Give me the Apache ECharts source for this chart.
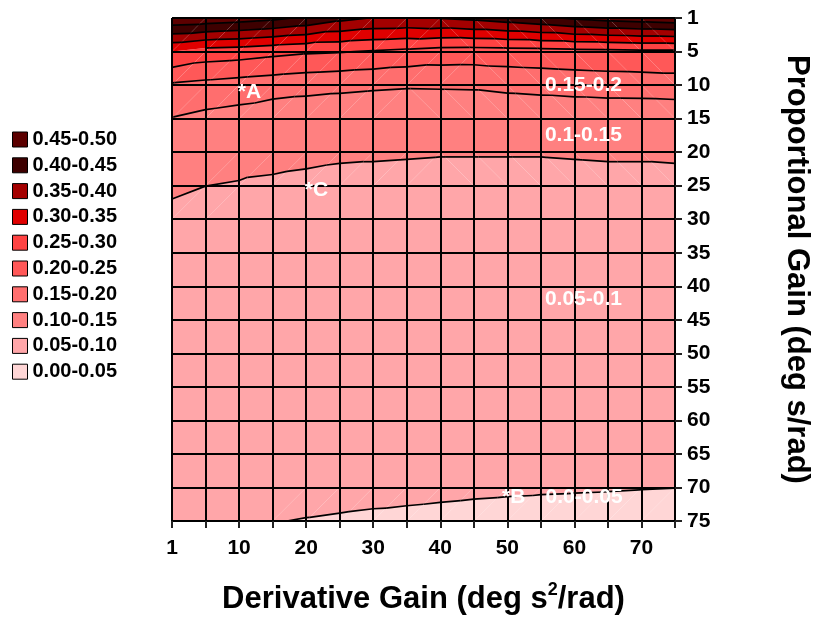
<!DOCTYPE html>
<html>
<head>
<meta charset="utf-8">
<script src="https://cdn.jsdelivr.net/npm/echarts@6/dist/echarts.min.js"></script>
<style>
  html, body { margin: 0; padding: 0; background: #ffffff; }
  #chart { width: 817px; height: 617px; }
</style>
</head>
<body>
<div id="chart"></div>
<script>
// Grid of gains (both axes are sampled at the same points)
const derivGain = [1, 5, 10, 15, 20, 25, 30, 35, 40, 45, 50, 55, 60, 65, 70, 75];
const propGain  = [1, 5, 10, 15, 20, 25, 30, 35, 40, 45, 50, 55, 60, 65, 70, 75];
const xLabelGains = [1, 10, 20, 30, 40, 50, 60, 70];

// Contour bands, low to high
const bandLabels = ['0.00-0.05', '0.05-0.10', '0.10-0.15', '0.15-0.20', '0.20-0.25',
                    '0.25-0.30', '0.30-0.35', '0.35-0.40', '0.40-0.45', '0.45-0.50'];
const bandEdges  = [0, 0.05, 0.10, 0.15, 0.20, 0.25, 0.30, 0.35, 0.40, 0.45, 0.50];
const bandColors = ['#ffd6d6', '#ffa6a9', '#ff8080', '#ff6e6e', '#ff5858',
                    '#ff4242', '#e00000', '#a40000', '#3e0000', '#5c0000'];

// Error surface, one row per proportional gain, columns follow derivGain
const errP1  = [0.490, 0.485, 0.475, 0.462, 0.442, 0.415, 0.398, 0.396, 0.402, 0.412, 0.425, 0.440, 0.458, 0.470, 0.478, 0.485];
const errP5  = [0.300, 0.279, 0.274, 0.264, 0.256, 0.253, 0.246, 0.238, 0.230, 0.228, 0.230, 0.232, 0.235, 0.237, 0.240, 0.240];
const errP10 = [0.194, 0.186, 0.179, 0.173, 0.167, 0.162, 0.158, 0.155, 0.156, 0.157, 0.163, 0.167, 0.171, 0.174, 0.175, 0.178];
const errP15 = [0.148, 0.137, 0.130, 0.118, 0.1155, 0.113, 0.110, 0.109, 0.108, 0.108, 0.109, 0.110, 0.111, 0.112, 0.112, 0.113];
const errP20 = [0.123, 0.115, 0.111, 0.106, 0.104, 0.1025, 0.102, 0.1015, 0.101, 0.101, 0.101, 0.101, 0.1015, 0.102, 0.102, 0.1025];
const errP25 = [0.106, 0.1002, 0.098, 0.097, 0.096, 0.095, 0.095, 0.0945, 0.094, 0.094, 0.094, 0.094, 0.0945, 0.095, 0.095, 0.095];
const errP30 = [0.091, 0.090, 0.088, 0.088, 0.087, 0.087, 0.0865, 0.086, 0.086, 0.086, 0.086, 0.086, 0.086, 0.0865, 0.087, 0.087];
const errP35 = [0.084, 0.083, 0.082, 0.081, 0.081, 0.080, 0.080, 0.0795, 0.079, 0.079, 0.079, 0.079, 0.079, 0.0795, 0.080, 0.080];
const errP40 = [0.078, 0.077, 0.076, 0.075, 0.075, 0.074, 0.074, 0.0735, 0.073, 0.073, 0.073, 0.073, 0.073, 0.0735, 0.074, 0.074];
const errP45 = [0.073, 0.072, 0.071, 0.070, 0.070, 0.069, 0.069, 0.0685, 0.068, 0.068, 0.068, 0.068, 0.068, 0.068, 0.0685, 0.069];
const errP50 = [0.068, 0.067, 0.066, 0.066, 0.065, 0.065, 0.064, 0.064, 0.0635, 0.063, 0.063, 0.063, 0.063, 0.063, 0.063, 0.0635];
const errP55 = [0.064, 0.063, 0.062, 0.062, 0.061, 0.061, 0.060, 0.060, 0.0595, 0.059, 0.059, 0.059, 0.0585, 0.0585, 0.0585, 0.058];
const errP60 = [0.061, 0.060, 0.059, 0.0585, 0.058, 0.0575, 0.057, 0.0565, 0.056, 0.0555, 0.0555, 0.055, 0.055, 0.0545, 0.0545, 0.054];
const errP65 = [0.058, 0.057, 0.0565, 0.056, 0.0555, 0.055, 0.0545, 0.054, 0.0535, 0.053, 0.053, 0.0525, 0.052, 0.0515, 0.051, 0.0505];
const errP70 = [0.056, 0.0552, 0.0545, 0.054, 0.0536, 0.0533, 0.0526, 0.0524, 0.0520, 0.0516, 0.0513, 0.0511, 0.0509, 0.0507, 0.0504, 0.0501];
const errP75 = [0.053, 0.052, 0.051, 0.0503, 0.0496, 0.049, 0.0485, 0.048, 0.0475, 0.047, 0.0465, 0.046, 0.0455, 0.045, 0.0445, 0.044];
const errorRows = [errP1, errP5, errP10, errP15, errP20, errP25, errP30, errP35,
                   errP40, errP45, errP50, errP55, errP60, errP65, errP70, errP75];

// Annotations placed at (derivative gain, proportional gain)
const noteText  = ['*A', '*C', '*B', '0.15-0.2', '0.1-0.15', '0.05-0.1', '0.0-0.05'];
const noteDeriv = [9.8, 19.8, 49.2, 55.6, 55.6, 55.6, 55.7];
const noteProp  = [11.0, 25.7, 71.5, 10.0, 17.5, 41.9, 71.5];

const FONT = '"Liberation Sans", Arial, Helvetica, sans-serif';

// gain value -> fractional grid index
function gainToIndex(v, gains) {
  for (let k = 0; k < gains.length - 1; k++) {
    if (v <= gains[k + 1]) return k + (v - gains[k]) / (gains[k + 1] - gains[k]);
  }
  return gains.length - 1;
}

function bandOf(v) {
  for (let k = 0; k < bandEdges.length - 1; k++) {
    if (v < bandEdges[k + 1]) return k;
  }
  return bandEdges.length - 2;
}

// one data item per grid cell
const cells = [];
for (let r = 0; r < propGain.length - 1; r++) {
  for (let c = 0; c < derivGain.length - 1; c++) cells.push([c, r]);
}

function cellCorners(api, c, r) {
  const pt = (cc, rr) => {
    const p = api.coord([cc, rr]);
    return { x: p[0], y: p[1], v: errorRows[rr][cc] };
  };
  return [pt(c, r), pt(c + 1, r), pt(c + 1, r + 1), pt(c, r + 1)];
}

function isUniform(q) {
  const b = bandOf(q[0].v);
  return q.every(p => bandOf(p.v) === b);
}

function triangles(q) {
  const [a, b, c, d] = q;
  if (Math.abs(a.v - c.v) <= Math.abs(b.v - d.v)) return [[a, b, c], [a, c, d]];
  return [[a, b, d], [b, c, d]];
}

// keep the part of a polygon where f(p) >= 0
function clipHalf(pts, f) {
  const res = [];
  for (let i = 0; i < pts.length; i++) {
    const a = pts[i], b = pts[(i + 1) % pts.length];
    const fa = f(a), fb = f(b);
    if (fa >= 0) res.push(a);
    if ((fa >= 0) !== (fb >= 0)) {
      const t = fa / (fa - fb);
      res.push({ x: a.x + t * (b.x - a.x), y: a.y + t * (b.y - a.y), v: a.v + t * (b.v - a.v) });
    }
  }
  return res;
}

function bandPolygons(q, k) {
  if (isUniform(q)) return bandOf(q[0].v) === k ? [q] : [];
  const lo = bandEdges[k], hi = bandEdges[k + 1];
  const out = [];
  triangles(q).forEach(tri => {
    let p = clipHalf(tri, s => s.v - lo);
    if (p.length) p = clipHalf(p, s => hi - s.v);
    if (p.length >= 3) out.push(p);
  });
  return out;
}

function contourSegments(q) {
  if (isUniform(q)) return [];
  const segs = [];
  triangles(q).forEach(tri => {
    for (let k = 1; k < bandEdges.length - 1; k++) {
      const L = bandEdges[k];
      const pts = [];
      for (let i = 0; i < 3; i++) {
        const a = tri[i], b = tri[(i + 1) % 3];
        if ((a.v - L) * (b.v - L) < 0) {
          const t = (L - a.v) / (b.v - a.v);
          pts.push([a.x + t * (b.x - a.x), a.y + t * (b.y - a.y)]);
        }
      }
      if (pts.length === 2) segs.push(pts);
    }
  });
  return segs;
}

const bandSeries = bandLabels.map((name, k) => ({
  type: 'custom',
  name: name,
  z: 2,
  silent: true,
  itemStyle: { color: bandColors[k] },
  data: cells,
  renderItem: (params, api) => {
    const q = cellCorners(api, api.value(0), api.value(1));
    return {
      type: 'group',
      children: bandPolygons(q, k).map(poly => ({
        type: 'polygon',
        shape: { points: poly.map(p => [p.x, p.y]) },
        style: { fill: bandColors[k] }
      }))
    };
  }
}));

const contourSeries = {
  type: 'custom',
  name: 'contours',
  z: 3,
  silent: true,
  data: cells,
  renderItem: (params, api) => {
    const q = cellCorners(api, api.value(0), api.value(1));
    return {
      type: 'group',
      children: contourSegments(q).map(s => ({
        type: 'line',
        shape: { x1: s[0][0], y1: s[0][1], x2: s[1][0], y2: s[1][1] },
        style: { stroke: '#000', lineWidth: 1.7 }
      }))
    };
  }
};

const noteSeries = {
  type: 'custom',
  name: 'notes',
  z: 10,
  silent: true,
  data: noteText.map((t, i) => [gainToIndex(noteDeriv[i], derivGain), gainToIndex(noteProp[i], propGain)]),
  renderItem: (params, api) => {
    const p = api.coord([api.value(0), api.value(1)]);
    return {
      type: 'text',
      x: p[0], y: p[1],
      style: {
        text: noteText[params.dataIndex],
        fill: '#ffffff',
        font: 'bold 21px ' + FONT,
        align: 'left',
        verticalAlign: 'middle'
      }
    };
  }
};

const chart = echarts.init(document.getElementById('chart'), null, { renderer: 'canvas' });
chart.setOption({
  animation: false,
  backgroundColor: '#ffffff',
  grid: { left: 172, right: 142, top: 18, bottom: 96, outerBoundsMode: 'none', containLabel: false },
  legend: {
    data: bandLabels.slice().reverse(),
    orient: 'vertical',
    left: 12,
    top: 129.5,
    padding: 0,
    icon: 'rect',
    itemWidth: 15,
    itemHeight: 15,
    itemGap: 5.8,
    selectedMode: false,
    itemStyle: { borderColor: '#000', borderWidth: 1 },
    textStyle: { fontFamily: FONT, fontSize: 20, fontWeight: 'bold', color: '#000' }
  },
  xAxis: {
    type: 'value',
    min: 0, max: derivGain.length - 1, interval: 1,
    position: 'bottom',
    z: 4,
    axisLine: { show: true, onZero: false, lineStyle: { color: '#000', width: 2 } },
    axisTick: { show: true, length: 7, lineStyle: { color: '#222', width: 2 } },
    axisLabel: {
      margin: 17,
      fontFamily: FONT, fontSize: 21, fontWeight: 'bold', color: '#000',
      formatter: v => (xLabelGains.indexOf(derivGain[v]) >= 0 ? String(derivGain[v]) : '')
    },
    splitLine: { show: true, lineStyle: { color: '#000', width: 2 } },
    name: '{t|Derivative Gain (deg s}{s|2}{t|/rad)}',
    nameLocation: 'middle',
    nameGap: 60,
    nameTextStyle: {
      rich: {
        t: { fontFamily: FONT, fontSize: 31, fontWeight: 'bold', color: '#000', lineHeight: 36 },
        s: { fontFamily: FONT, fontSize: 18, fontWeight: 'bold', color: '#000', lineHeight: 22, verticalAlign: 'top' }
      }
    }
  },
  yAxis: {
    type: 'value',
    inverse: true,
    min: 0, max: propGain.length - 1, interval: 1,
    position: 'right',
    z: 4,
    axisLine: { show: true, onZero: false, lineStyle: { color: '#000', width: 2 } },
    axisTick: { show: true, length: 7, lineStyle: { color: '#222', width: 2 } },
    axisLabel: {
      margin: 12,
      fontFamily: FONT, fontSize: 21, fontWeight: 'bold', color: '#000',
      formatter: v => String(propGain[v])
    },
    splitLine: { show: true, lineStyle: { color: '#000', width: 2 } },
    name: 'Proportional Gain (deg s/rad)',
    nameLocation: 'middle',
    nameRotate: -90,
    nameGap: 106,
    nameTextStyle: { fontFamily: FONT, fontSize: 31, fontWeight: 'bold', color: '#000' }
  },
  series: bandSeries.concat([contourSeries, noteSeries])
});
</script>
</body>
</html>
